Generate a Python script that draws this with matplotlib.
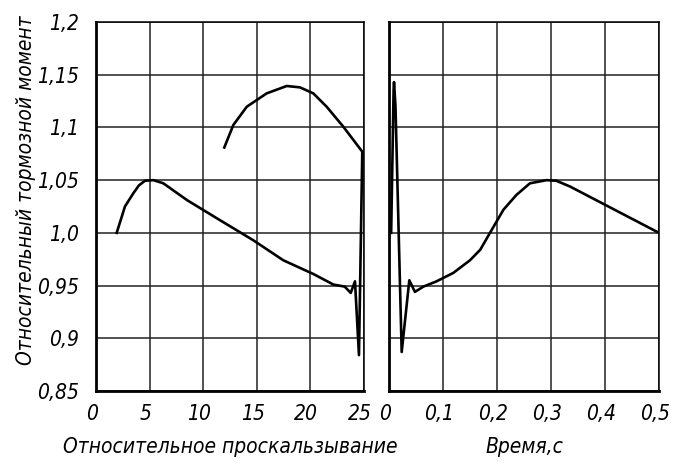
import matplotlib
matplotlib.use("Agg")
import matplotlib.pyplot as plt
from matplotlib.transforms import ScaledTranslation

# left panel: relative slip vs relative braking torque
slip = [1.93, 2.7, 3.48, 4.0, 4.57, 5.35, 6.28, 8.5, 11.57, 14.67, 17.47, 20.27,
        22.14, 23.2, 23.76, 24.16, 24.53, 24.84,
        23.07, 21.52, 20.27, 19.03, 17.79, 15.92, 14.06, 12.81, 11.97]
moment_slip = [1.0, 1.025, 1.0375, 1.045, 1.0494, 1.05, 1.047, 1.031, 1.012, 0.993, 0.974, 0.961,
               0.951, 0.949, 0.943, 0.954, 0.884, 1.077,
               1.1007, 1.1196, 1.1323, 1.138, 1.1393, 1.1323, 1.1196, 1.1023, 1.081]

# right panel: time vs relative braking torque
time_s = [0.004, 0.006, 0.0085, 0.0093, 0.012, 0.0235, 0.0376, 0.048, 0.0636, 0.088, 0.119,
          0.15, 0.169, 0.187, 0.212, 0.236, 0.261, 0.292, 0.31, 0.335, 0.5]
moment_t = [1.0, 1.06, 1.135, 1.143, 1.12, 0.887, 0.955, 0.944, 0.949, 0.954, 0.962,
            0.974, 0.984, 1.0, 1.022, 1.036, 1.047, 1.05, 1.0494, 1.044, 1.0]

y_ticks = [0.85, 0.9, 0.95, 1.0, 1.05, 1.1, 1.15, 1.2]
y_labels = ['0,85', '0,9', '0,95', '1,0', '1,05', '1,1', '1,15', '1,2']
slip_ticks = [0, 5, 10, 15, 20, 25]
time_ticks = [0, 0.1, 0.2, 0.3, 0.4, 0.5]
time_labels = ['0', '0,1', '0,2', '0,3', '0,4', '0,5']

font = dict(family=['DejaVu Sans'], style='italic', stretch='condensed')

fig = plt.figure(figsize=(6.75, 4.63), dpi=100)
ax1 = fig.add_axes([96 / 675, 72 / 463, 268 / 675, 369 / 463])
ax2 = fig.add_axes([389 / 675, 72 / 463, 270 / 675, 369 / 463])

shift = ScaledTranslation(-4 / 100, 0, fig.dpi_scale_trans)

for ax in (ax1, ax2):
    ax.set_ylim(0.85, 1.2)
    ax.set_yticks(y_ticks)
    ax.grid(True, color='#222222', lw=1.1)
    ax.set_axisbelow(True)
    ax.tick_params(length=0, labelsize=15)
    ax.tick_params(axis='x', pad=9)
    ax.tick_params(axis='y', pad=12)
    for side in ('top', 'right'):
        ax.spines[side].set_linewidth(1.1)
    for side in ('left', 'bottom'):
        ax.spines[side].set_linewidth(2.0)

ax1.plot(slip, moment_slip, color='black', lw=1.9, solid_joinstyle='round')
ax1.set_xlim(0, 25)
ax1.set_xticks(slip_ticks)
ax1.set_xticklabels([str(v) for v in slip_ticks], **font)
ax1.set_yticklabels(y_labels, **font)
ax1.set_xlabel('Относительное проскальзывание', fontsize=15, labelpad=10, **font)
ax1.set_ylabel('Относительный тормозной момент', fontsize=15, **font)
ax1.yaxis.set_label_coords(-0.225, 0.545)

ax2.plot(time_s, moment_t, color='black', lw=1.9, solid_joinstyle='round')
ax2.set_xlim(0, 0.5)
ax2.set_xticks(time_ticks)
ax2.set_xticklabels(time_labels, **font)
ax2.set_yticklabels([])
ax2.set_xlabel('Время,с', fontsize=15, labelpad=10, **font)

for ax in (ax1, ax2):
    for lbl in ax.get_xticklabels():
        lbl.set_transform(lbl.get_transform() + shift)

fig.savefig('out.png', dpi=100)
